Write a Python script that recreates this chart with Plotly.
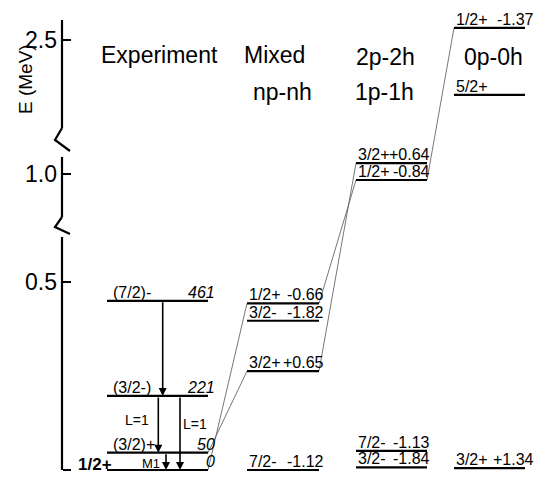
import plotly.graph_objects as go

# ---------------- data (energies in MeV, as drawn on the level scheme) ----------------
exp_spins = ["1/2+", "(3/2)+", "(3/2-)", "(7/2)-"]
exp_energy = [0.000, 0.046, 0.197, 0.450]
exp_kev = ["0", "50", "221", "461"]

mixed_spins = ["7/2-", "3/2+", "3/2-", "1/2+"]
mixed_energy = [0.000, 0.263, 0.397, 0.443]
mixed_values = ["-1.12", "+0.65", "-1.82", "-0.66"]

ph21_spins = ["3/2-", "7/2-", "1/2+", "3/2+"]
ph21_energy = [0.007, 0.051, 0.984, 1.029]
ph21_values = ["-1.84", "-1.13", "-0.84", "+0.64"]

ph00_spins = ["3/2+", "5/2+", "1/2+"]
ph00_energy = [0.005, 2.354, 2.532]
ph00_values = ["+1.34", "", "-1.37"]

gamma_from = [3, 2, 2, 1]
gamma_to = [2, 1, 0, 0]
gamma_labels = ["", "L=1", "L=1", "M1"]

# correspondences: (column, level) -> (column, level)
links = [((0, 0), (1, 3)), ((0, 1), (1, 1)), ((1, 3), (2, 2)),
         ((1, 1), (2, 3)), ((2, 2), (3, 2))]

col_titles = [["Experiment"], ["Mixed", "np-nh"], ["2p-2h", "1p-1h"], ["0p-0h"]]

tick_values = [0.0, 0.5, 1.0, 2.5]
tick_labels = ["0", "0.5", "1.0", "2.5"]

# ---------------- layout helpers ----------------
W, H = 549, 478
FONT = "Liberation Sans, Arial, Helvetica, sans-serif"
AXIS_X = 62
Y0_PX = 470.0
PX_PER_MEV = 376.0
MID_SHIFT = (470 - 174) / PX_PER_MEV - 1.0
TOP_SHIFT = (470 - 40) / PX_PER_MEV - 2.5


def to_axis(e):
    """broken energy axis -> plotting coordinate"""
    if e < 0.7:
        return e
    if e < 2.0:
        return e + MID_SHIFT
    return e + TOP_SHIFT


def px(py):
    return (Y0_PX - py) / PX_PER_MEV


col_x = [(107, 208), (247, 319), (356, 427), (454, 525)]
value_right = [217, 326, 432, 536]
title_x = [[159], [274, 282], [385, 384], [493]]
title_y = [[55], [55, 92], [57, 92], [57]]

energies = [exp_energy, mixed_energy, ph21_energy, ph00_energy]
spins = [exp_spins, mixed_spins, ph21_spins, ph00_spins]
values = [exp_kev, mixed_values, ph21_values, ph00_values]

fig = go.Figure()

# axis spine with breaks
spine_x, spine_y = [], []
for seg in [(20, 128), (157, 217), (237, 470)]:
    spine_x += [AXIS_X, AXIS_X, None]
    spine_y += [px(seg[0]), px(seg[1]), None]
for zz in [[(62, 128), (59, 133), (55, 140), (70, 151)],
           [(62, 217), (59, 221), (55, 227), (70, 234)]]:
    spine_x += [p[0] for p in zz] + [None]
    spine_y += [px(p[1]) for p in zz] + [None]
fig.add_trace(go.Scatter(x=spine_x, y=spine_y, mode="lines",
                         line=dict(color="black", width=2.2), hoverinfo="skip"))

# correspondence lines
lx, ly = [], []
for (ca, ia), (cb, ib) in links:
    lx += [col_x[ca][1], col_x[cb][0], None]
    ly += [to_axis(energies[ca][ia]), to_axis(energies[cb][ib]), None]
fig.add_trace(go.Scatter(x=lx, y=ly, mode="lines",
                         line=dict(color="#666666", width=0.9), hoverinfo="skip"))

# level lines
for c, ens in enumerate(energies):
    xs, ys = [], []
    for e in ens:
        xs += [col_x[c][0], col_x[c][1], None]
        ys += [to_axis(e), to_axis(e), None]
    fig.add_trace(go.Scatter(x=xs, y=ys, mode="lines",
                             line=dict(color="black", width=2.2), hoverinfo="skip"))

annotations = []
lab_font = dict(family=FONT, size=16, color="black")

# level labels
for c in range(4):
    for i, e in enumerate(energies[c]):
        s = spins[c][i]
        v = values[c][i]
        y = to_axis(e)
        if c == 0 and i == 0:
            annotations.append(dict(x=col_x[0][0] + 7, y=y, xref="x", yref="y",
                                    text="<b>" + s + "</b>", showarrow=False,
                                    xanchor="right", yanchor="bottom", yshift=-6,
                                    font=dict(family=FONT, size=17, color="black")))
        else:
            annotations.append(dict(x=col_x[c][0] + (4 if c == 0 else 0), y=y,
                                    xref="x", yref="y", text=s, showarrow=False,
                                    xanchor="left", yanchor="bottom", yshift=-2,
                                    font=lab_font))
        if v:
            txt = "<i>" + v + "</i>" if c == 0 else v
            annotations.append(dict(x=value_right[c], y=y, xref="x", yref="y",
                                    text=txt, showarrow=False,
                                    xanchor="right", yanchor="bottom", yshift=-2,
                                    font=lab_font))

# gamma transitions
gamma_x = [162.7, 158.3, 180, 166]
gamma_lab_xy = [None, (137, 420), (195, 424), (151, 463)]
for k in range(len(gamma_from)):
    y_from = to_axis(exp_energy[gamma_from[k]])
    y_to = to_axis(exp_energy[gamma_to[k]])
    annotations.append(dict(x=gamma_x[k], y=y_to, ax=gamma_x[k], ay=y_from,
                            xref="x", yref="y", axref="x", ayref="y", text="",
                            showarrow=True, arrowhead=2, arrowsize=1.0,
                            arrowwidth=1.6, arrowcolor="black", standoff=0))
    if gamma_labels[k]:
        annotations.append(dict(x=gamma_lab_xy[k][0], y=px(gamma_lab_xy[k][1]),
                                xref="x", yref="y", text=gamma_labels[k],
                                showarrow=False, xanchor="center", yanchor="middle",
                                font=dict(family=FONT, size=14 if k < 3 else 13,
                                          color="black")))

# column titles
for c in range(4):
    for j, t in enumerate(col_titles[c]):
        annotations.append(dict(x=title_x[c][j], y=px(title_y[c][j]), xref="x", yref="y",
                                text=t, showarrow=False, xanchor="center",
                                yanchor="middle",
                                font=dict(family=FONT, size=23, color="black")))

# axis title
annotations.append(dict(x=25, y=px(79), xref="x", yref="y", text="E (MeV)",
                        textangle=-90, showarrow=False, xanchor="center",
                        yanchor="middle", font=dict(family=FONT, size=19, color="black")))

fig.update_layout(
    width=W, height=H,
    margin=dict(l=0, r=0, t=0, b=0),
    paper_bgcolor="white", plot_bgcolor="white",
    showlegend=False,
    annotations=annotations,
    xaxis=dict(range=[0, W], visible=False, fixedrange=True),
    yaxis=dict(range=[px(H), px(0)], anchor="free", position=AXIS_X / W,
               showgrid=False, zeroline=False, showline=False,
               ticks="inside", ticklen=8, tickwidth=1.5, tickcolor="black",
               tickvals=[to_axis(v) for v in tick_values], ticktext=tick_labels,
               tickfont=dict(family=FONT, size=23, color="black"),
               ticklabelstandoff=5, fixedrange=True),
)

fig.write_html("out.html", config={"displayModeBar": False},
               post_script="document.body.style.margin='0';")
